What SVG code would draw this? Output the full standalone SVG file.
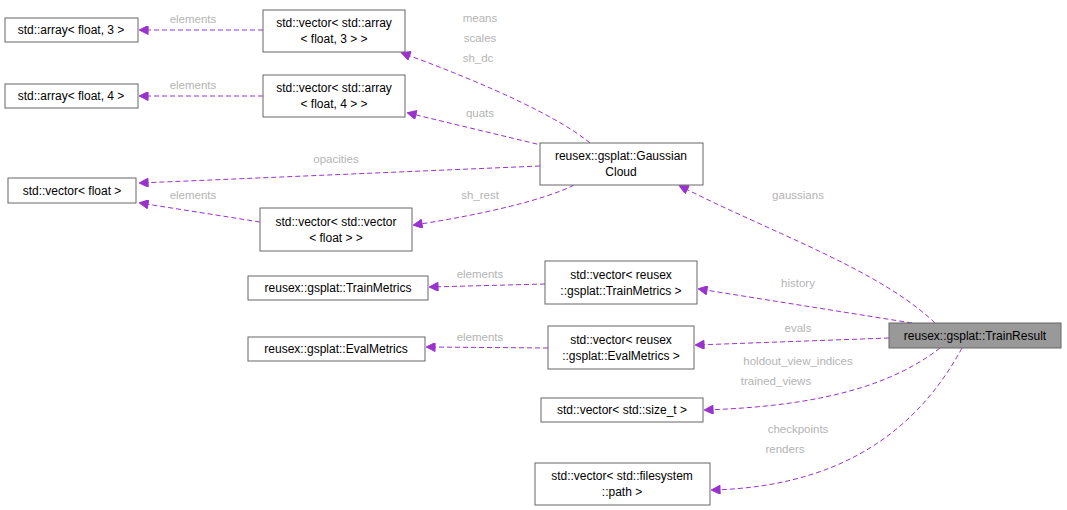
<svg xmlns="http://www.w3.org/2000/svg" width="1067" height="510" viewBox="0 0 1067 510">
<style>
.n rect{fill:#fff;stroke:#666;stroke-width:1}
.n text{font-family:"Liberation Sans",Arial,sans-serif;font-size:12px;fill:#000;text-anchor:middle}
.e path{fill:none;stroke:#9a32cd;stroke-width:1;stroke-dasharray:5,3;marker-end:url(#a)}
.e text{font-family:"Liberation Sans",Arial,sans-serif;font-size:11.5px;fill:#b4b4b4;text-anchor:middle}
</style>
<defs><marker id="a" viewBox="0 0 10 10" refX="9" refY="5" markerWidth="11" markerHeight="9" orient="auto" markerUnits="userSpaceOnUse"><path d="M0,0 L10,5 L0,10 z" fill="#9a32cd" stroke="#9a32cd"/></marker></defs>
<rect width="1067" height="510" fill="#fff"/>
<g class="e">
<path d="M263,30 L140,30"/><text x="193" y="23">elements</text>
<path d="M263,96 L140,96"/><text x="193" y="89">elements</text>
<path d="M590,143 C560,118 490,85 402,53"/><text x="480" y="22">means</text><text x="480" y="42">scales</text><text x="478" y="62">sh_dc</text>
<path d="M545,146 L408,113"/><text x="480" y="117">quats</text>
<path d="M540,166 L140,183"/><text x="336" y="163">opacities</text>
<path d="M574,185 C545,200 480,215 414,225"/><text x="480" y="199">sh_rest</text>
<path d="M260,222 L140,203"/><text x="193" y="199">elements</text>
<path d="M935,323 C880,270 770,232 680,186"/><text x="798" y="199">gaussians</text>
<path d="M912,323 L699,289"/><text x="798" y="287">history</text>
<path d="M889,338 L696,345"/><text x="798" y="332">evals</text>
<path d="M545,284 L430,287"/><text x="480" y="278">elements</text>
<path d="M548,348 L427,347"/><text x="480" y="341">elements</text>
<path d="M940,348 C880,395 790,407 705,410"/><text x="798" y="365">holdout_view_indices</text><text x="776" y="385">trained_views</text>
<path d="M962,348 C912,440 830,487 712,490"/><text x="798" y="433">checkpoints</text><text x="785" y="453">renders</text>
</g>
<g class="n" id="n1"><rect x="5" y="18" width="133" height="24"/><text x="71" y="34">std::array&lt; float, 3 &gt;</text></g>
<g class="n" id="n2"><rect x="5" y="84" width="133" height="24"/><text x="71" y="100">std::array&lt; float, 4 &gt;</text></g>
<g class="n" id="n3"><rect x="8" y="178" width="128" height="25"/><text x="72" y="195">std::vector&lt; float &gt;</text></g>
<g class="n" id="n4"><rect x="263" y="10" width="142" height="42"/><text x="334" y="27">std::vector&lt; std::array</text><text x="334" y="43">&lt; float, 3 &gt; &gt;</text></g>
<g class="n" id="n5"><rect x="263" y="75" width="142" height="42"/><text x="334" y="92">std::vector&lt; std::array</text><text x="334" y="108">&lt; float, 4 &gt; &gt;</text></g>
<g class="n" id="n6"><rect x="540" y="143" width="163" height="42"/><text x="621" y="160">reusex::gsplat::Gaussian</text><text x="621" y="176">Cloud</text></g>
<g class="n" id="n7"><rect x="260" y="208" width="152" height="43"/><text x="336" y="226">std::vector&lt; std::vector</text><text x="336" y="242">&lt; float &gt; &gt;</text></g>
<g class="n" id="n8"><rect x="248" y="276" width="180" height="24"/><text x="338" y="292">reusex::gsplat::TrainMetrics</text></g>
<g class="n" id="n9"><rect x="545" y="261" width="152" height="43"/><text x="621" y="279">std::vector&lt; reusex</text><text x="621" y="295">::gsplat::TrainMetrics &gt;</text></g>
<g class="n" id="n10"><rect x="248" y="337" width="177" height="24"/><text x="336" y="353">reusex::gsplat::EvalMetrics</text></g>
<g class="n" id="n11"><rect x="548" y="326" width="146" height="43"/><text x="621" y="344">std::vector&lt; reusex</text><text x="621" y="360">::gsplat::EvalMetrics &gt;</text></g>
<g class="n" id="n12"><rect x="889" y="323" width="172" height="25" style="fill:#999"/><text x="975" y="340">reusex::gsplat::TrainResult</text></g>
<g class="n" id="n13"><rect x="541" y="398" width="162" height="24"/><text x="622" y="414">std::vector&lt; std::size_t &gt;</text></g>
<g class="n" id="n14"><rect x="535" y="463" width="175" height="42"/><text x="622" y="480">std::vector&lt; std::filesystem</text><text x="622" y="496">::path &gt;</text></g>
</svg>
